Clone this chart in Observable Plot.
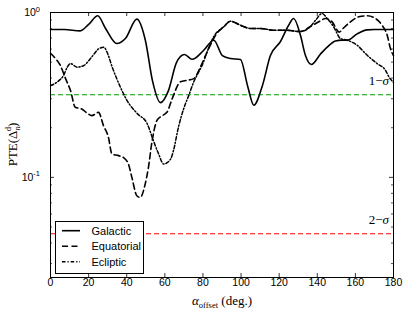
<!DOCTYPE html>
<html><head><meta charset="utf-8">
<script src="https://cdn.jsdelivr.net/npm/d3@7"></script>
<script src="https://cdn.jsdelivr.net/npm/@observablehq/plot@0.6"></script>
<style>body{margin:0;background:#fff} svg{display:block}</style>
</head><body><div id="chart"></div>
<script>
// ---- data ----
const galOffset = [0,7.3,15.6,20,24.8,28.9,34.8,39.3,45.3,49.8,53.5,57.7,61.9,66.1,70.3,74.3,80.3,85.7,90.2,94.4,99.7,103.4,106.7,111.2,115.4,120.7,124.9,127.6,131.2,133.8,136.9,141.7,145.2,149.5,153,156,160.9,166.2,170,180];
const galPTE    = [0.788,0.788,0.774,0.846,0.955,0.80,0.648,0.695,0.911,0.676,0.386,0.284,0.336,0.497,0.556,0.52,0.588,0.679,0.548,0.526,0.519,0.36,0.274,0.36,0.548,0.667,0.834,0.92,0.725,0.548,0.484,0.56,0.616,0.672,0.68,0.68,0.742,0.785,0.788,0.788];

const eqOffset = [0,2.6,5.2,7.9,10.5,13.0,16.4,18.9,21.7,25.2,27.8,30.4,32.2,35.7,38.3,40.9,42.7,45.3,47.1,49.7,51.4,53.1,55.8,57.7,61.2,63.9,68.2,71.7,75.2,78.7,82.2,84.8,86.6,90.9,94.4,99.7,104.9,110.2,117.2,123.3,131.2,136.4,140.8,144.3,147.8,151.5,153.5,157.4,161.8,166.2,170.5,174,176.7,178.4,180];
const eqPTE    = [0.566,0.526,0.477,0.397,0.336,0.266,0.26,0.247,0.237,0.248,0.206,0.175,0.139,0.1355,0.132,0.1205,0.100,0.0774,0.0756,0.0912,0.115,0.160,0.221,0.233,0.249,0.301,0.38,0.388,0.397,0.468,0.577,0.664,0.728,0.819,0.885,0.837,0.80,0.80,0.781,0.781,0.767,0.822,0.878,0.92,0.878,0.76,0.80,0.878,0.942,0.955,0.92,0.837,0.728,0.604,0.548];

const eclOffset = [0,4.4,6.8,8.8,10.5,14,17.5,21,25.3,28,29.7,32.4,36.7,40.2,45.5,50.7,54,56.7,59.4,63,64.5,67.2,69.9,72.6,75.2,77.8,79.6,82.2,83.9,85.7,90.9,94.4,99.7,104.9,110.2,117.2,123.3,131.2,136.4,139,142.5,145.2,148.5,152.2,155.7,160.9,166.2,171.4,175.8,177.5,180];
const eclPTE    = [0.36,0.386,0.414,0.466,0.49,0.466,0.477,0.526,0.602,0.616,0.574,0.466,0.352,0.292,0.244,0.212,0.167,0.139,0.1205,0.129,0.145,0.203,0.261,0.315,0.38,0.436,0.479,0.577,0.648,0.715,0.819,0.885,0.837,0.80,0.80,0.781,0.781,0.767,0.822,0.894,0.986,0.92,0.822,0.695,0.679,0.633,0.55,0.49,0.446,0.409,0.376];

const sigmaLevels = [0.3173, 0.0455];
const sigmaLabels = ["1", "2"];
const xTicks = [0,20,40,60,80,100,120,140,160,180];
const yMajor = [0.1, 1];
const yMajorExp = ["-1", "0"];
const yMinor = [0.03,0.04,0.05,0.06,0.07,0.08,0.09,0.2,0.3,0.4,0.5,0.6,0.7,0.8,0.9];
const seriesNames = ["Galactic", "Equatorial", "Ecliptic"];

// ---- build tables ----
const toRows = (xs, ys, name) => xs.map((x, i) => ({x, y: ys[i], name}));
const gal = toRows(galOffset, galPTE, "Galactic");
const eq = toRows(eqOffset, eqPTE, "Equatorial");
const ecl = toRows(eclOffset, eclPTE, "Ecliptic");

const dashes = {Galactic: null, Equatorial: "6,3.5", Ecliptic: "3.5,2,1.2,2"};

const WIDTH = 407, HEIGHT = 313, ML = 50, MR = 14, MT = 12, MB = 36;
const H = HEIGHT - MT - MB, W = WIDTH - ML - MR;

const plot = Plot.plot({
  width: WIDTH, height: HEIGHT,
  marginLeft: ML, marginRight: MR, marginTop: MT, marginBottom: MB,
  x: {domain: [0, 180], axis: null},
  y: {type: "log", domain: [0.0247, 1], axis: null},
  style: {fontFamily: "'Liberation Sans', Arial, sans-serif", fontSize: "10.5px", background: "white", color: "black"},
  marks: [
    Plot.ruleY([sigmaLevels[0]], {y: d => d, stroke: "#00a000", strokeDasharray: "5,3", strokeWidth: 1.1}),
    Plot.ruleY([sigmaLevels[1]], {y: d => d, stroke: "#ff0000", strokeDasharray: "5,3", strokeWidth: 1.1}),
    Plot.line(ecl, {x: "x", y: "y", curve: "monotone-x", stroke: "black", strokeWidth: 1.5, strokeDasharray: dashes.Ecliptic}),
    Plot.line(eq, {x: "x", y: "y", curve: "monotone-x", stroke: "black", strokeWidth: 1.6, strokeDasharray: dashes.Equatorial}),
    Plot.line(gal, {x: "x", y: "y", curve: "monotone-x", stroke: "black", strokeWidth: 1.6}),
    // ticks (inward)
    Plot.tickX(xTicks, {x: d => d, insetTop: H - 4, stroke: "black", strokeWidth: 0.8}),
    Plot.tickX(xTicks, {x: d => d, insetBottom: H - 4, stroke: "black", strokeWidth: 0.8}),
    Plot.tickY(yMajor, {y: d => d, insetRight: W - 4, stroke: "black", strokeWidth: 0.8}),
    Plot.tickY(yMajor, {y: d => d, insetLeft: W - 4, stroke: "black", strokeWidth: 0.8}),
    Plot.tickY(yMinor, {y: d => d, insetRight: W - 2, stroke: "black", strokeWidth: 0.7}),
    Plot.tickY(yMinor, {y: d => d, insetLeft: W - 2, stroke: "black", strokeWidth: 0.7}),
    Plot.text(xTicks, {x: d => d, frameAnchor: "bottom", dy: 8.5, text: d => String(d), fill: "black"}),
    Plot.frame({stroke: "black", strokeWidth: 1})
  ]
});

document.getElementById("chart").appendChild(plot);
const svg = d3.select(plot);
const xs = plot.scale("x"), ys = plot.scale("y");
const serif = "'Liberation Serif', 'DejaVu Serif', serif";
const sans = "'Liberation Sans', Arial, sans-serif";

// y tick labels 10^-1, 10^0
yMajor.forEach((v, i) => {
  const t = svg.append("text").attr("x", ML - 10).attr("y", ys.apply(v) + 4)
    .attr("text-anchor", "end").attr("font-family", sans).attr("font-size", "10.5px").attr("fill", "black");
  t.append("tspan").text("10");
  t.append("tspan").attr("dy", -4.5).attr("font-size", "7.5px").text(yMajorExp[i]);
});

// sigma labels
sigmaLevels.forEach((v, i) => {
  const t = svg.append("text").attr("x", xs.apply(180) - 4).attr("y", ys.apply(v) - 9)
    .attr("text-anchor", "end").attr("font-family", serif).attr("font-size", "13px").attr("fill", "black");
  t.append("tspan").text(sigmaLabels[i] + "\u2212");
  t.append("tspan").attr("font-style", "italic").text("\u03c3");
});

// x axis label
{
  const t = svg.append("text").attr("x", 222).attr("y", 305).attr("text-anchor", "middle")
    .attr("font-family", serif).attr("font-size", "13px").attr("fill", "black");
  t.append("tspan").attr("font-style", "italic").text("\u03b1");
  t.append("tspan").attr("font-size", "8.5px").attr("dy", 2.5).text("offset");
  t.append("tspan").attr("dy", -2.5).text(" (deg.)");
}
// y axis label
{
  const t = svg.append("text").attr("transform", `translate(17,${(MT + HEIGHT - MB) / 2}) rotate(-90)`)
    .attr("text-anchor", "middle").attr("font-family", serif).attr("font-size", "13px").attr("fill", "black");
  t.append("tspan").text("PTE(\u0394");
  t.append("tspan").attr("font-size", "8.5px").attr("font-style", "italic").attr("dy", 3).text("n");
  t.append("tspan").attr("font-size", "8.5px").attr("dx", -5).attr("dy", -9).text("d");
  t.append("tspan").attr("dy", 6).text(")");
}

// legend
{
  const g = svg.append("g");
  g.append("rect").attr("x", 55.5).attr("y", 221.5).attr("width", 88).attr("height", 52)
    .attr("fill", "white").attr("stroke", "black").attr("stroke-width", 1);
  seriesNames.forEach((name, i) => {
    const yy = 230.7 + i * 15.5;
    g.append("line").attr("x1", 62).attr("x2", 80).attr("y1", yy).attr("y2", yy)
      .attr("stroke", "black").attr("stroke-width", 1.6)
      .attr("stroke-dasharray", dashes[name]);
    g.append("text").attr("x", 91.5).attr("y", yy + 4).attr("text-anchor", "start").attr("font-family", sans)
      .attr("font-size", "11px").attr("fill", "black").text(name);
  });
}
</script>
</body></html>
